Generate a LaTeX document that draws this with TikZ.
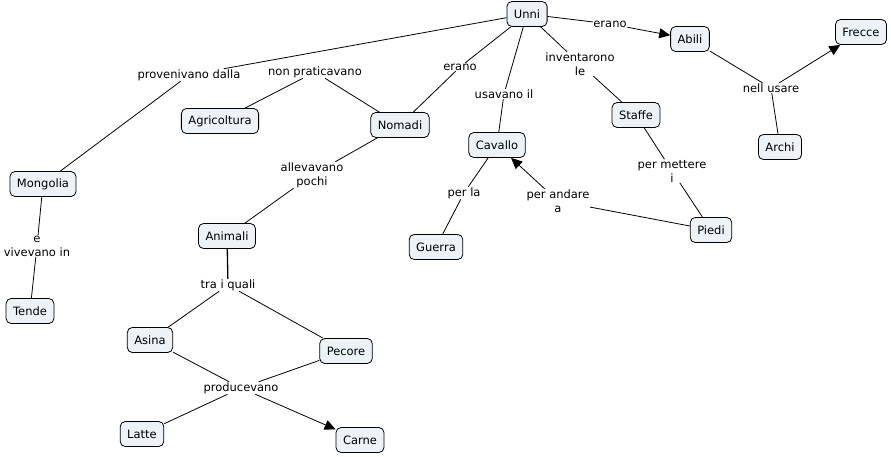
\documentclass[tikz,border=0pt]{standalone}
\usepackage{fontspec}
\setmainfont{DejaVu Sans}
\usetikzlibrary{arrows.meta}
\definecolor{cfill}{RGB}{236,242,246}
\tikzset{
  concept/.style={draw=black, fill=cfill, rounded corners=5pt, line width=0.8pt,
    minimum height=25pt, inner xsep=7pt, inner ysep=2pt, font=\fontsize{11.5}{13}\selectfont},
  lbl/.style={inner sep=0.5pt, align=center, font=\fontsize{11.5}{14}\selectfont},
  link/.style={draw=black, line width=0.8pt},
  arr/.style={link, -{Triangle[length=11pt,width=10pt]}}
}
\begin{document}
\begin{tikzpicture}[x=1pt,y=-1pt]
\useasboundingbox (0,0) rectangle (891,456);
% concepts
\node[concept] (unni) at (527,14) {Unni};
\node[concept] (abili) at (690,39) {Abili};
\node[concept] (frecce) at (861,32) {Frecce};
\node[concept] (agri) at (220,121) {Agricoltura};
\node[concept] (nomadi) at (400,125) {Nomadi};
\node[concept] (cavallo) at (497,145) {Cavallo};
\node[concept] (staffe) at (636,115) {Staffe};
\node[concept] (archi) at (780,147) {Archi};
\node[concept] (mongolia) at (43,184) {Mongolia};
\node[concept] (animali) at (227,236) {Animali};
\node[concept] (guerra) at (436,247) {Guerra};
\node[concept] (piedi) at (711,230) {Piedi};
\node[concept] (tende) at (30,311) {Tende};
\node[concept] (asina) at (150,340) {Asina};
\node[concept] (pecore) at (346,351) {Pecore};
\node[concept] (latte) at (142,434) {Latte};
\node[concept] (carne) at (360,440) {Carne};
% labels
\node[lbl] (l_erano1) at (610,24) {erano};
\node[lbl] (l_prov) at (189,75) {provenivano dalla};
\node[lbl] (l_nonp) at (315,72) {non praticavano};
\node[lbl] (l_erano2) at (460,67) {erano};
\node[lbl] (l_usav) at (504,94) {usavano il};
\node[lbl] (l_inv) at (580,64) {inventarono\\le};
\node[lbl] (l_nell) at (771,88) {nell usare};
\node[lbl] (l_mett) at (672,171) {per mettere\\i};
\node[lbl] (l_and) at (558,201) {per andare\\a};
\node[lbl] (l_perla) at (464,193) {per la};
\node[lbl] (l_allev) at (312,175) {allevavano\\pochi};
\node[lbl] (l_viv) at (37,246) {e\\vivevano in};
\node[lbl] (l_tra) at (228,285) {tra i quali};
\node[lbl] (l_prod) at (241,388) {producevano};
% links
\draw[link] (unni) -- (l_erano1);
\draw[arr] (l_erano1) -- (abili);
\draw[link] (unni) -- (l_prov);
\draw[link] (l_prov) -- (mongolia);
\draw[link] (unni) -- (l_erano2);
\draw[link] (l_erano2) -- (nomadi);
\draw[link] (nomadi) -- (l_nonp);
\draw[link] (l_nonp) -- (agri);
\draw[link] (unni) -- (l_usav);
\draw[link] (l_usav) -- (cavallo);
\draw[link] (unni) -- (l_inv);
\draw[link] (l_inv) -- (staffe);
\draw[link] (abili) -- (l_nell);
\draw[arr] (l_nell) -- (frecce);
\draw[link] (l_nell) -- (archi);
\draw[link] (staffe) -- (l_mett);
\draw[link] (l_mett) -- (piedi);
\draw[link] (piedi) -- (l_and);
\draw[arr] (l_and) -- (cavallo);
\draw[link] (cavallo) -- (l_perla);
\draw[link] (l_perla) -- (guerra);
\draw[link] (nomadi) -- (l_allev);
\draw[link] (l_allev) -- (animali);
\draw[link] (mongolia) -- (l_viv);
\draw[link] (l_viv) -- (tende);
\draw[link, line width=1.3pt] (animali) -- (l_tra);
\draw[link] (l_tra) -- (asina);
\draw[link] (l_tra) -- (pecore);
\draw[link] (asina) -- (l_prod);
\draw[link] (pecore) -- (l_prod);
\draw[link] (l_prod) -- (latte);
\draw[arr] (l_prod) -- (carne);
\end{tikzpicture}
\end{document}
